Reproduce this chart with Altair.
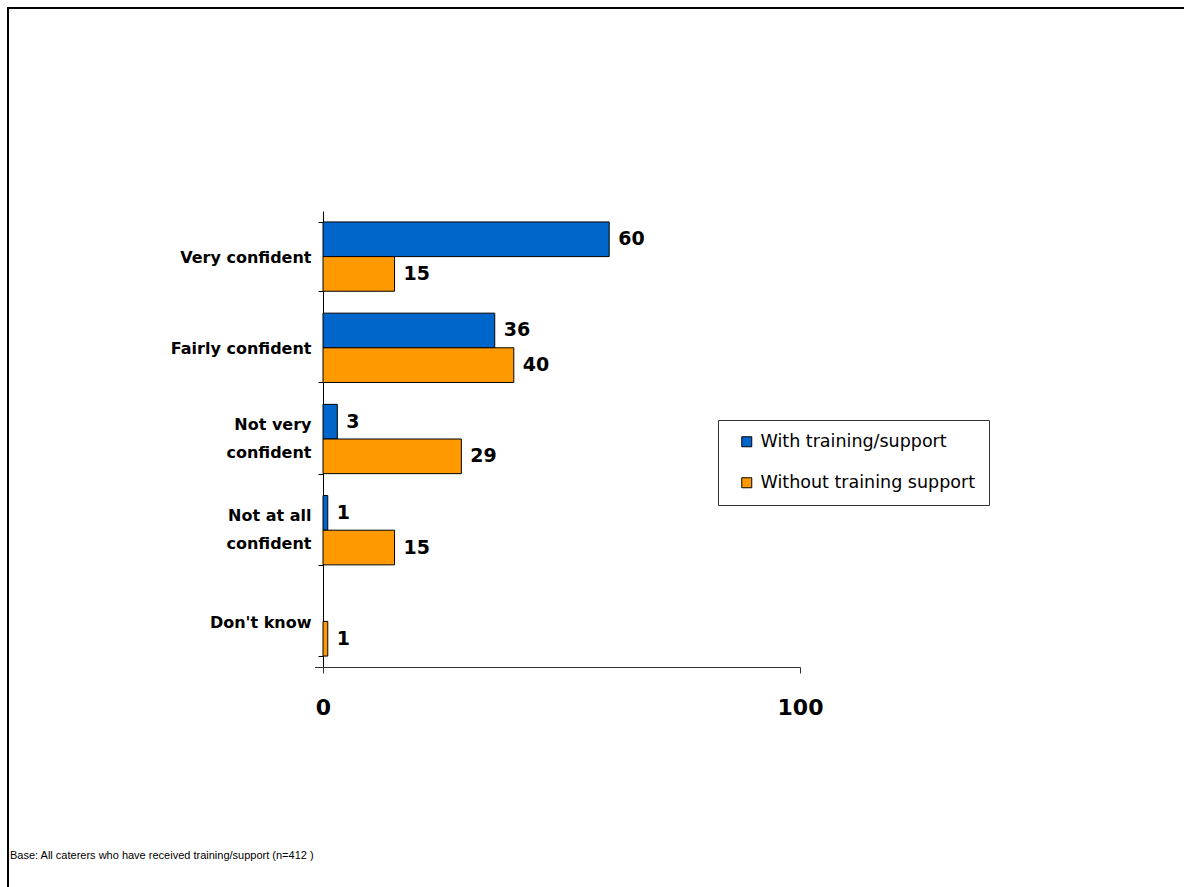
import json
import altair as alt
import pandas as pd

categories = ["Very confident", "Fairly confident", "Not very confident", "Not at all confident", "Don't know"]
category_lines = [["Very confident"], ["Fairly confident"], ["Not very", "confident"], ["Not at all", "confident"], ["Don't know"]]
series = ["With training/support", "Without training support"]
with_values = [60, 36, 3, 1, None]
without_values = [15, 40, 29, 15, 1]
colors = ["#0066CC", "#FF9900"]
x_ticks = [0, 100]
footnote = "Base: All caterers who have received training/support (n=412 )"

rows = []
for cat, a, b in zip(categories, with_values, without_values):
    if a is not None:
        rows.append({"category": cat, "series": series[0], "value": a})
    if b is not None:
        rows.append({"category": cat, "series": series[1], "value": b})
df = pd.DataFrame(rows)

label_expr = ""
multi = []
for cat, lines in zip(categories, category_lines):
    if len(lines) > 1:
        label_expr += f"datum.value == {json.dumps(cat)} ? {json.dumps(lines)} : "
        multi.append(f"datum.value == {json.dumps(cat)}")
label_expr += "datum.label"
multi_test = " || ".join(multi)

y_enc = alt.Y(
    "category:N",
    sort=categories,
    scale=alt.Scale(paddingInner=0.24, paddingOuter=0.12),
    axis=alt.Axis(
        title=None,
        labelFont="DejaVu Sans",
        labelFontWeight="bold",
        labelFontSize=16,
        labelColor="black",
        labelPadding=7,
        labelLineHeight=28,
        labelExpr=label_expr,
        labelOffset={"condition": {"test": multi_test, "value": -15}, "value": 1},
        labelLimit=0,
        tickSize=5,
        tickColor="black",
        domainColor="black",
        tickBand="extent",
        grid=False,
    ),
)
yoff_enc = alt.YOffset("series:N", sort=series, scale=alt.Scale(domain=series, paddingInner=0, paddingOuter=0))

x_enc = alt.X(
    "value:Q",
    scale=alt.Scale(domain=[0, 100]),
    axis=alt.Axis(
        title=None,
        values=x_ticks,
        labelFont="DejaVu Sans",
        labelFontWeight="bold",
        labelFontSize=22,
        labelColor="black",
        labelPadding=24,
        labelFlush=False,
        tickSize=6,
        tickColor="#333333",
        domainColor="#333333",
        grid=False,
    ),
)

bars = alt.Chart(df).mark_bar(stroke="black", strokeWidth=1).encode(
    y=y_enc,
    yOffset=yoff_enc,
    x=x_enc,
    fill=alt.Fill(
        "series:N",
        scale=alt.Scale(domain=series, range=colors),
        legend=alt.Legend(
            title=None,
            orient="none",
            legendX=395,
            legendY=209,
            symbolType="square",
            symbolSize=100,
            symbolStrokeColor="black",
            symbolStrokeWidth=1,
            symbolOpacity=1,
            labelFont="DejaVu Sans",
            labelFontSize=17.5,
            labelColor="black",
            labelOffset=5,
            labelLimit=0,
            rowPadding=22,
            padding=13,
            symbolOffset=7,
            strokeColor="#333333",
            fillColor="white",
        ),
    ),
)

labels = alt.Chart(df).mark_text(
    align="left", baseline="middle", dx=9, font="DejaVu Sans", fontWeight="bold", fontSize=19, color="black"
).encode(
    y=alt.Y("category:N", sort=categories),
    yOffset=alt.YOffset("series:N", sort=series),
    x=alt.X("value:Q"),
    text=alt.Text("value:Q"),
)

one = pd.DataFrame({"note": [footnote]})
frame = alt.Chart(one).mark_rect(fillOpacity=0, stroke="black", strokeWidth=2).encode(
    x=alt.value(-315), x2=alt.value(920), y=alt.value(-203), y2=alt.value(720)
)
axis_stub = alt.Chart(one).mark_rule(color="#333333", strokeWidth=1).encode(
    x=alt.value(-8), x2=alt.value(0), y=alt.value(456.5)
)
note = alt.Chart(one).mark_text(
    align="left", baseline="middle", font="Liberation Sans", fontSize=11, color="black"
).encode(x=alt.value(-313), y=alt.value(645), text="note:N")

chart = alt.layer(frame, axis_stub, bars, labels, note).properties(
    width=477,
    height=456,
    autosize=alt.AutoSizeParams(type="none"),
    padding={"left": 323, "top": 211, "right": 384, "bottom": 220},
).configure_view(strokeWidth=0, stroke="transparent")

chart.save("out.html", embed_options={"renderer": "svg", "actions": False})
